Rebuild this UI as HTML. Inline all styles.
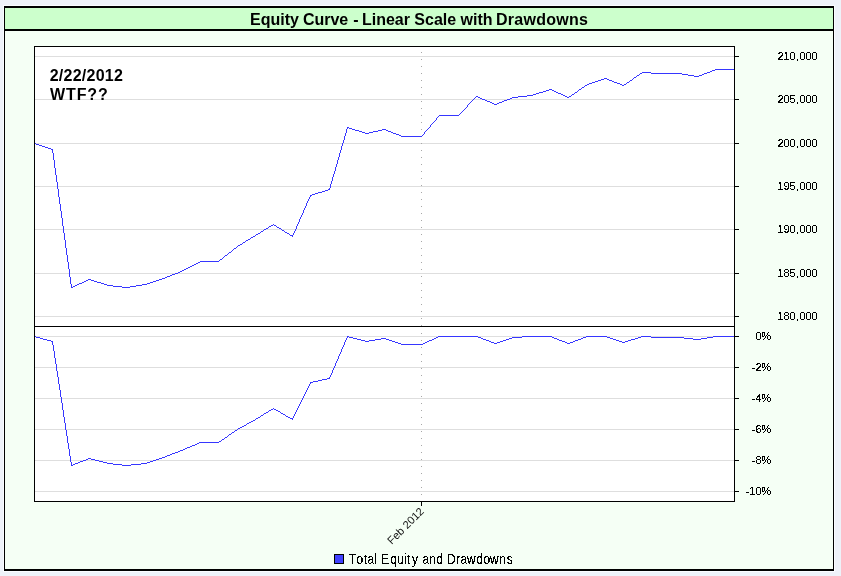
<!DOCTYPE html>
<html lang="en">
<head>
<meta charset="utf-8">
<title>Equity Curve - Linear Scale with Drawdowns</title>
<style>
html,body{margin:0;padding:0;}
body{width:841px;height:576px;overflow:hidden;background:#eef2f9;font-family:"Liberation Sans",Arial,sans-serif;}
svg{position:absolute;left:0;top:0;display:block;}
text{font-family:"Liberation Sans",Arial,sans-serif;fill:#000;}
.ax{font-size:11px;}
.ttl{font-size:16px;font-weight:bold;}
.note{font-size:16px;font-weight:bold;}
.leg{font-size:12px;}
</style>
</head>
<body>
<svg width="841" height="576" viewBox="0 0 841 576">
<defs>
<filter id="al" x="-5%" y="-20%" width="110%" height="140%" color-interpolation-filters="sRGB"><feComponentTransfer><feFuncA type="discrete" tableValues="0 0 1 1 1"/></feComponentTransfer></filter>
</defs>
<rect x="0" y="0" width="841" height="576" fill="#eef2f9"/>
<g shape-rendering="crispEdges">
<!-- outer frame -->
<rect x="3" y="5" width="832" height="567" fill="#fafcff"/>
<rect x="4" y="6" width="830" height="565" fill="#000"/>
<rect x="5" y="8" width="828" height="21" fill="#ccffcc"/>
<rect x="5" y="31" width="828" height="538" fill="#f5fff5"/>
<!-- plot area -->
<rect x="34" y="46" width="701" height="456" fill="#000"/>
<rect x="35" y="47" width="699" height="454" fill="#fff"/>
</g>
<g shape-rendering="crispEdges">
<rect x="35" y="56" width="699" height="1" fill="#dedede"/>
<rect x="35" y="99" width="699" height="1" fill="#dedede"/>
<rect x="35" y="143" width="699" height="1" fill="#dedede"/>
<rect x="35" y="186" width="699" height="1" fill="#dedede"/>
<rect x="35" y="229" width="699" height="1" fill="#dedede"/>
<rect x="35" y="273" width="699" height="1" fill="#dedede"/>
<rect x="35" y="316" width="699" height="1" fill="#dedede"/>
<rect x="35" y="336" width="699" height="1" fill="#dedede"/>
<rect x="35" y="367" width="699" height="1" fill="#dedede"/>
<rect x="35" y="398" width="699" height="1" fill="#dedede"/>
<rect x="35" y="429" width="699" height="1" fill="#dedede"/>
<rect x="35" y="460" width="699" height="1" fill="#dedede"/>
<rect x="35" y="491" width="699" height="1" fill="#dedede"/>
<line x1="421.5" y1="52" x2="421.5" y2="326" stroke="#a8a8a8" stroke-width="1" stroke-dasharray="1 6"/>
<line x1="421.5" y1="333" x2="421.5" y2="501" stroke="#a8a8a8" stroke-width="1" stroke-dasharray="1 6"/>
<rect x="35" y="326" width="699" height="1" fill="#000"/>
<rect x="735" y="56" width="4" height="1" fill="#000"/>
<rect x="735" y="99" width="4" height="1" fill="#000"/>
<rect x="735" y="143" width="4" height="1" fill="#000"/>
<rect x="735" y="186" width="4" height="1" fill="#000"/>
<rect x="735" y="229" width="4" height="1" fill="#000"/>
<rect x="735" y="273" width="4" height="1" fill="#000"/>
<rect x="735" y="316" width="4" height="1" fill="#000"/>
<rect x="735" y="336" width="4" height="1" fill="#000"/>
<rect x="735" y="367" width="4" height="1" fill="#000"/>
<rect x="735" y="398" width="4" height="1" fill="#000"/>
<rect x="735" y="429" width="4" height="1" fill="#000"/>
<rect x="735" y="460" width="4" height="1" fill="#000"/>
<rect x="735" y="491" width="4" height="1" fill="#000"/>
<rect x="421" y="502" width="1" height="4" fill="#000"/>
<path fill="#3636ff" d="M715 69h19v1h-19zM712 70h3v1h-3zM710 71h2v1h-2zM642 72h9v1h-9zM707 72h3v1h-3zM640 73h2v1h-2zM651 73h31v1h-31zM704 73h3v1h-3zM682 74h6v1h-6zM702 74h2v1h-2zM637 75h2v1h-2zM688 75h6v1h-6zM699 75h3v1h-3zM694 76h5v1h-5zM634 77h2v1h-2zM604 78h3v1h-3zM601 79h3v1h-3zM607 79h2v1h-2zM598 80h3v1h-3zM609 80h3v1h-3zM630 80h2v1h-2zM595 81h3v1h-3zM612 81h2v1h-2zM592 82h3v1h-3zM614 82h3v1h-3zM627 82h2v1h-2zM589 83h3v1h-3zM617 83h3v1h-3zM587 84h2v1h-2zM620 84h2v1h-2zM624 84h2v1h-2zM585 85h2v1h-2zM622 85h2v1h-2zM582 87h2v1h-2zM549 89h3v1h-3zM579 89h2v1h-2zM546 90h3v1h-3zM552 90h2v1h-2zM543 91h3v1h-3zM554 91h2v1h-2zM539 92h4v1h-4zM556 92h2v1h-2zM575 92h2v1h-2zM536 93h3v1h-3zM558 93h3v1h-3zM533 94h3v1h-3zM561 94h2v1h-2zM572 94h2v1h-2zM527 95h6v1h-6zM563 95h2v1h-2zM476 96h2v1h-2zM518 96h9v1h-9zM565 96h2v1h-2zM569 96h2v1h-2zM478 97h2v1h-2zM512 97h6v1h-6zM567 97h2v1h-2zM480 98h2v1h-2zM510 98h2v1h-2zM482 99h3v1h-3zM507 99h3v1h-3zM485 100h2v1h-2zM504 100h3v1h-3zM487 101h3v1h-3zM502 101h2v1h-2zM490 102h2v1h-2zM499 102h3v1h-3zM492 103h2v1h-2zM497 103h2v1h-2zM494 104h3v1h-3zM439 115h20v1h-20zM347 127h2v1h-2zM349 128h3v1h-3zM352 129h3v1h-3zM382 129h4v1h-4zM355 130h4v1h-4zM378 130h4v1h-4zM386 130h2v1h-2zM359 131h3v1h-3zM373 131h5v1h-5zM388 131h3v1h-3zM362 132h3v1h-3zM369 132h4v1h-4zM391 132h2v1h-2zM365 133h4v1h-4zM393 133h3v1h-3zM396 134h3v1h-3zM399 135h2v1h-2zM401 136h21v1h-21zM36 144h3v1h-3zM39 145h3v1h-3zM42 146h3v1h-3zM45 147h3v1h-3zM48 148h3v1h-3zM51 149h2v1h-2zM328 189h2v1h-2zM325 190h3v1h-3zM322 191h3v1h-3zM318 192h4v1h-4zM315 193h3v1h-3zM312 194h3v1h-3zM310 195h2v1h-2zM271 225h2v1h-2zM274 225h2v1h-2zM269 226h2v1h-2zM277 227h2v1h-2zM266 228h2v1h-2zM279 228h2v1h-2zM264 229h2v1h-2zM282 230h2v1h-2zM261 231h2v1h-2zM285 232h2v1h-2zM258 233h2v1h-2zM287 233h2v1h-2zM256 234h2v1h-2zM290 235h3v1h-3zM253 236h2v1h-2zM251 237h2v1h-2zM248 239h2v1h-2zM246 240h2v1h-2zM243 242h2v1h-2zM240 244h2v1h-2zM238 245h2v1h-2zM234 248h2v1h-2zM229 252h2v1h-2zM225 255h2v1h-2zM220 259h2v1h-2zM200 261h19v1h-19zM198 262h2v1h-2zM196 263h2v1h-2zM194 264h2v1h-2zM192 265h2v1h-2zM190 266h2v1h-2zM188 267h2v1h-2zM186 268h2v1h-2zM184 269h2v1h-2zM182 270h2v1h-2zM180 271h2v1h-2zM178 272h2v1h-2zM175 273h3v1h-3zM172 274h3v1h-3zM170 275h2v1h-2zM167 276h3v1h-3zM165 277h2v1h-2zM162 278h3v1h-3zM88 279h3v1h-3zM159 279h3v1h-3zM86 280h2v1h-2zM91 280h3v1h-3zM156 280h3v1h-3zM84 281h2v1h-2zM94 281h3v1h-3zM153 281h3v1h-3zM82 282h2v1h-2zM97 282h4v1h-4zM150 282h3v1h-3zM79 283h3v1h-3zM101 283h3v1h-3zM147 283h3v1h-3zM77 284h2v1h-2zM104 284h3v1h-3zM142 284h5v1h-5zM75 285h2v1h-2zM107 285h6v1h-6zM136 285h6v1h-6zM73 286h2v1h-2zM113 286h9v1h-9zM130 286h6v1h-6zM71 287h2v1h-2zM122 287h8v1h-8zM35 143h1v1h-1zM52 150h1v3h-1zM53 153h1v7h-1zM54 160h1v8h-1zM55 168h1v7h-1zM56 175h1v7h-1zM57 182h1v7h-1zM58 189h1v8h-1zM59 197h1v7h-1zM60 204h1v7h-1zM61 211h1v7h-1zM62 218h1v8h-1zM63 226h1v7h-1zM64 233h1v7h-1zM65 240h1v8h-1zM66 248h1v7h-1zM67 255h1v7h-1zM68 262h1v7h-1zM69 269h1v8h-1zM70 277h1v7h-1zM71 284h1v3h-1zM219 260h1v1h-1zM222 258h1v1h-1zM223 257h1v1h-1zM224 256h1v1h-1zM227 254h1v1h-1zM228 253h1v1h-1zM231 251h1v1h-1zM232 250h1v1h-1zM233 249h1v1h-1zM236 247h1v1h-1zM237 246h1v1h-1zM242 243h1v1h-1zM245 241h1v1h-1zM250 238h1v1h-1zM255 235h1v1h-1zM260 232h1v1h-1zM263 230h1v1h-1zM268 227h1v1h-1zM273 224h1v1h-1zM276 226h1v1h-1zM281 229h1v1h-1zM284 231h1v1h-1zM289 234h1v1h-1zM292 236h1v1h-1zM293 233h1v2h-1zM294 231h1v2h-1zM295 229h1v2h-1zM296 226h1v3h-1zM297 224h1v2h-1zM298 222h1v2h-1zM299 219h1v3h-1zM300 217h1v2h-1zM301 215h1v2h-1zM302 213h1v2h-1zM303 210h1v3h-1zM304 208h1v2h-1zM305 206h1v2h-1zM306 203h1v3h-1zM307 201h1v2h-1zM308 199h1v2h-1zM309 197h1v2h-1zM310 196h1v1h-1zM329 188h1v1h-1zM330 184h1v4h-1zM331 181h1v3h-1zM332 177h1v4h-1zM333 174h1v3h-1zM334 171h1v3h-1zM335 167h1v4h-1zM336 164h1v3h-1zM337 160h1v4h-1zM338 157h1v3h-1zM339 153h1v4h-1zM340 150h1v3h-1zM341 146h1v4h-1zM342 143h1v3h-1zM343 140h1v3h-1zM344 136h1v4h-1zM345 133h1v3h-1zM346 129h1v4h-1zM347 128h1v1h-1zM422 135h1v1h-1zM423 134h1v1h-1zM424 132h1v2h-1zM425 131h1v1h-1zM426 130h1v1h-1zM427 129h1v1h-1zM428 128h1v1h-1zM429 127h1v1h-1zM430 125h1v2h-1zM431 124h1v1h-1zM432 123h1v1h-1zM433 122h1v1h-1zM434 121h1v1h-1zM435 120h1v1h-1zM436 118h1v2h-1zM437 117h1v1h-1zM438 116h1v1h-1zM459 114h1v1h-1zM460 113h1v1h-1zM461 112h1v1h-1zM462 111h1v1h-1zM463 110h1v1h-1zM464 109h1v1h-1zM465 108h1v1h-1zM466 107h1v1h-1zM467 105h1v2h-1zM468 104h1v1h-1zM469 103h1v1h-1zM470 102h1v1h-1zM471 101h1v1h-1zM472 100h1v1h-1zM473 99h1v1h-1zM474 98h1v1h-1zM475 97h1v1h-1zM571 95h1v1h-1zM574 93h1v1h-1zM577 91h1v1h-1zM578 90h1v1h-1zM581 88h1v1h-1zM584 86h1v1h-1zM626 83h1v1h-1zM629 81h1v1h-1zM632 79h1v1h-1zM633 78h1v1h-1zM636 76h1v1h-1zM639 74h1v1h-1z"/>
<path fill="#3636ff" d="M347 336h2v1h-2zM438 336h40v1h-40zM522 336h30v1h-30zM586 336h21v1h-21zM641 336h10v1h-10zM713 336h21v1h-21zM36 337h4v1h-4zM349 337h4v1h-4zM436 337h2v1h-2zM478 337h3v1h-3zM512 337h10v1h-10zM552 337h2v1h-2zM583 337h3v1h-3zM607 337h3v1h-3zM638 337h3v1h-3zM651 337h33v1h-33zM707 337h6v1h-6zM40 338h3v1h-3zM353 338h4v1h-4zM381 338h5v1h-5zM434 338h2v1h-2zM481 338h2v1h-2zM509 338h3v1h-3zM554 338h3v1h-3zM581 338h2v1h-2zM610 338h3v1h-3zM635 338h3v1h-3zM684 338h9v1h-9zM701 338h6v1h-6zM43 339h4v1h-4zM357 339h4v1h-4zM375 339h6v1h-6zM386 339h3v1h-3zM432 339h2v1h-2zM483 339h3v1h-3zM506 339h3v1h-3zM557 339h2v1h-2zM578 339h3v1h-3zM613 339h3v1h-3zM631 339h4v1h-4zM693 339h8v1h-8zM47 340h4v1h-4zM361 340h4v1h-4zM369 340h6v1h-6zM389 340h3v1h-3zM429 340h3v1h-3zM486 340h3v1h-3zM503 340h3v1h-3zM559 340h3v1h-3zM575 340h3v1h-3zM616 340h3v1h-3zM628 340h3v1h-3zM51 341h2v1h-2zM365 341h4v1h-4zM392 341h3v1h-3zM427 341h2v1h-2zM489 341h2v1h-2zM500 341h3v1h-3zM562 341h3v1h-3zM573 341h2v1h-2zM619 341h3v1h-3zM625 341h3v1h-3zM395 342h3v1h-3zM425 342h2v1h-2zM491 342h3v1h-3zM497 342h3v1h-3zM565 342h2v1h-2zM570 342h3v1h-3zM622 342h3v1h-3zM398 343h3v1h-3zM423 343h2v1h-2zM494 343h3v1h-3zM567 343h3v1h-3zM401 344h22v1h-22zM327 378h3v1h-3zM322 379h5v1h-5zM318 380h4v1h-4zM313 381h5v1h-5zM310 382h3v1h-3zM271 409h2v1h-2zM274 409h2v1h-2zM269 410h2v1h-2zM276 410h2v1h-2zM278 411h2v1h-2zM266 412h2v1h-2zM264 413h2v1h-2zM281 413h2v1h-2zM283 414h2v1h-2zM261 415h2v1h-2zM286 416h2v1h-2zM258 417h2v1h-2zM288 417h2v1h-2zM256 418h2v1h-2zM290 418h3v1h-3zM253 420h2v1h-2zM251 421h2v1h-2zM249 422h2v1h-2zM247 423h2v1h-2zM244 425h2v1h-2zM242 426h2v1h-2zM240 427h2v1h-2zM238 428h2v1h-2zM235 430h2v1h-2zM232 432h2v1h-2zM229 434h2v1h-2zM225 437h2v1h-2zM222 439h2v1h-2zM219 441h2v1h-2zM199 442h20v1h-20zM197 443h2v1h-2zM195 444h2v1h-2zM192 445h3v1h-3zM190 446h2v1h-2zM187 447h3v1h-3zM185 448h2v1h-2zM183 449h2v1h-2zM180 450h3v1h-3zM178 451h2v1h-2zM175 452h3v1h-3zM172 453h3v1h-3zM170 454h2v1h-2zM167 455h3v1h-3zM165 456h2v1h-2zM162 457h3v1h-3zM88 458h3v1h-3zM159 458h3v1h-3zM86 459h2v1h-2zM91 459h4v1h-4zM156 459h3v1h-3zM83 460h3v1h-3zM95 460h4v1h-4zM153 460h3v1h-3zM80 461h3v1h-3zM99 461h4v1h-4zM150 461h3v1h-3zM78 462h2v1h-2zM103 462h4v1h-4zM147 462h3v1h-3zM75 463h3v1h-3zM107 463h6v1h-6zM141 463h6v1h-6zM73 464h2v1h-2zM113 464h9v1h-9zM131 464h10v1h-10zM71 465h2v1h-2zM122 465h9v1h-9zM35 336h1v1h-1zM52 342h1v3h-1zM53 345h1v6h-1zM54 351h1v7h-1zM55 358h1v6h-1zM56 364h1v7h-1zM57 371h1v6h-1zM58 377h1v7h-1zM59 384h1v6h-1zM60 390h1v7h-1zM61 397h1v6h-1zM62 403h1v7h-1zM63 410h1v7h-1zM64 417h1v6h-1zM65 423h1v7h-1zM66 430h1v6h-1zM67 436h1v7h-1zM68 443h1v6h-1zM69 449h1v7h-1zM70 456h1v6h-1zM71 462h1v3h-1zM221 440h1v1h-1zM224 438h1v1h-1zM227 436h1v1h-1zM228 435h1v1h-1zM231 433h1v1h-1zM234 431h1v1h-1zM237 429h1v1h-1zM246 424h1v1h-1zM255 419h1v1h-1zM260 416h1v1h-1zM263 414h1v1h-1zM268 411h1v1h-1zM273 408h1v1h-1zM280 412h1v1h-1zM285 415h1v1h-1zM292 419h1v1h-1zM293 416h1v2h-1zM294 414h1v2h-1zM295 412h1v2h-1zM296 410h1v2h-1zM297 408h1v2h-1zM298 406h1v2h-1zM299 404h1v2h-1zM300 402h1v2h-1zM301 400h1v2h-1zM302 398h1v2h-1zM303 396h1v2h-1zM304 394h1v2h-1zM305 392h1v2h-1zM306 390h1v2h-1zM307 388h1v2h-1zM308 386h1v2h-1zM309 384h1v2h-1zM310 383h1v1h-1zM329 377h1v1h-1zM330 375h1v2h-1zM331 373h1v2h-1zM332 370h1v3h-1zM333 368h1v2h-1zM334 366h1v2h-1zM335 363h1v3h-1zM336 361h1v2h-1zM337 359h1v2h-1zM338 356h1v3h-1zM339 354h1v2h-1zM340 352h1v2h-1zM341 349h1v3h-1zM342 347h1v2h-1zM343 345h1v2h-1zM344 342h1v3h-1zM345 340h1v2h-1zM346 338h1v2h-1zM347 337h1v1h-1z"/>
<rect x="334" y="554" width="10" height="10" fill="#000"/>
<rect x="335" y="555" width="8" height="8" fill="#4040ff"/>
</g>
<g filter="url(#al)">
<text class="ax" x="777.5 783.5 789.5 796 799.5 805.5 811.5" y="60">210,000</text>
<text class="ax" x="777.5 783.5 789.5 796 799.5 805.5 811.5" y="103">205,000</text>
<text class="ax" x="777.5 783.5 789.5 796 799.5 805.5 811.5" y="147">200,000</text>
<text class="ax" x="777.5 783.5 789.5 796 799.5 805.5 811.5" y="190">195,000</text>
<text class="ax" x="777.5 783.5 789.5 796 799.5 805.5 811.5" y="233">190,000</text>
<text class="ax" x="777.5 783.5 789.5 796 799.5 805.5 811.5" y="277">185,000</text>
<text class="ax" x="777.5 783.5 789.5 796 799.5 805.5 811.5" y="320">180,000</text>
<text class="ax" x="755.5 761.2" y="340">0%</text>
<text class="ax" x="751.5 755.5 761.2" y="371">-2%</text>
<text class="ax" x="751.5 755.5 761.2" y="402">-4%</text>
<text class="ax" x="751.5 755.5 761.2" y="433">-6%</text>
<text class="ax" x="751.5 755.5 761.2" y="464">-8%</text>
<text class="ax" x="745.5 749.3 755.5 761.2" y="495">-10%</text>
<text class="leg" transform="translate(0,564) scale(1,1.2)" x="348.78 356.55 363.86 367.54 374.24 378.2 381.07 390.55 397.28 404.24 406.86 412.02 416.0 422.54 429.25 436.55 440.6 447.07 456.25 460.54 467.07 476.55 483.55 490.07 499.25 506.71" y="0">Total Equity and Drawdowns</text>
</g>
<text class="note" x="49.7" y="81" letter-spacing="0.25">2/22/2012</text>
<text class="note" x="50" y="100" letter-spacing="0.9">WTF??</text>
<text class="ttl" y="24.5"><tspan x="250.07">Equity </tspan><tspan x="302.90">Curve </tspan><tspan x="353.20">- </tspan><tspan x="361.98">Linear </tspan><tspan x="414.33">Scale </tspan><tspan x="460.60">with </tspan><tspan x="496.03" letter-spacing="0.25">Drawdowns</tspan></text>
<g opacity="0.999"><text class="ax" style="fill:#111" transform="translate(424.6,512.1) rotate(-45)" text-anchor="end" x="0" y="0">Feb 2012</text></g>
</svg>
</body>
</html>
